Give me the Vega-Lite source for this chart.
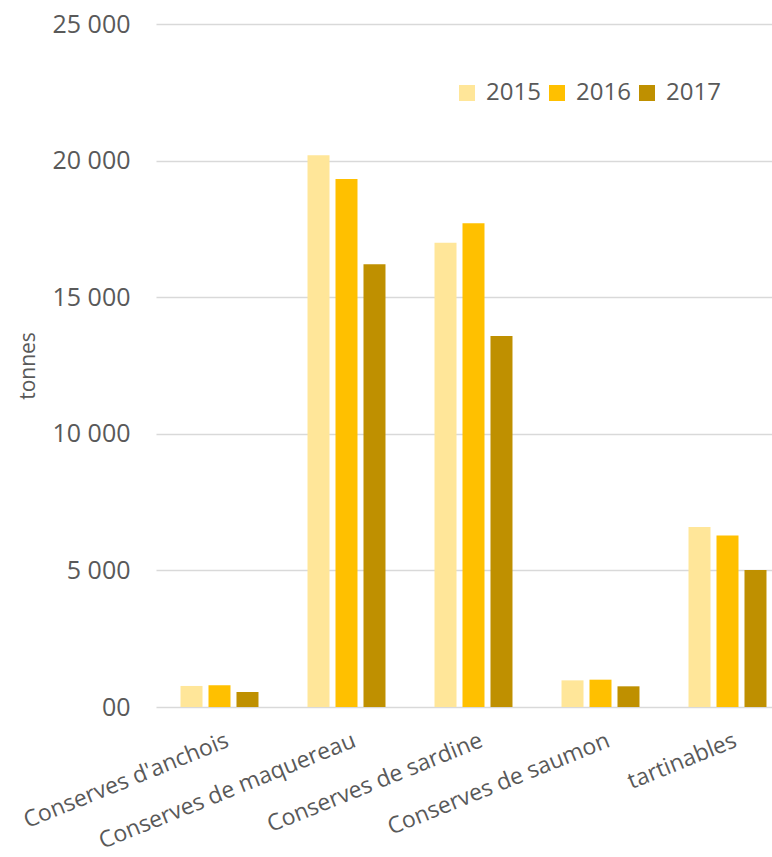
{
  "$schema": "https://vega.github.io/schema/vega-lite/v6.json",
  "autosize": {"type": "none"},
  "padding": {"left": 156, "top": 24, "right": 0, "bottom": 150},
  "width": 616,
  "height": 683,
  "background": "white",
  "config": {
    "view": {"stroke": null},
    "font": "Open Sans",
    "axis": {"labelColor": "#595959", "titleColor": "#595959", "labelFont": "Open Sans", "titleFont": "Open Sans"},
    "legend": {"labelColor": "#595959", "labelFont": "Open Sans"}
  },
  "data": {
    "values": [
      {"categorie": "Conserves d'anchois", "annee": "2015", "tonnes": 770},
      {"categorie": "Conserves d'anchois", "annee": "2016", "tonnes": 795},
      {"categorie": "Conserves d'anchois", "annee": "2017", "tonnes": 550},
      {"categorie": "Conserves de maquereau", "annee": "2015", "tonnes": 20200},
      {"categorie": "Conserves de maquereau", "annee": "2016", "tonnes": 19330},
      {"categorie": "Conserves de maquereau", "annee": "2017", "tonnes": 16210},
      {"categorie": "Conserves de sardine", "annee": "2015", "tonnes": 16990},
      {"categorie": "Conserves de sardine", "annee": "2016", "tonnes": 17710},
      {"categorie": "Conserves de sardine", "annee": "2017", "tonnes": 13580},
      {"categorie": "Conserves de saumon", "annee": "2015", "tonnes": 975},
      {"categorie": "Conserves de saumon", "annee": "2016", "tonnes": 1000},
      {"categorie": "Conserves de saumon", "annee": "2017", "tonnes": 757},
      {"categorie": "tartinables", "annee": "2015", "tonnes": 6590},
      {"categorie": "tartinables", "annee": "2016", "tonnes": 6280},
      {"categorie": "tartinables", "annee": "2017", "tonnes": 5015}
    ]
  },
  "mark": {"type": "bar"},
  "encoding": {
    "x": {
      "field": "categorie",
      "type": "nominal",
      "sort": null,
      "scale": {"range": [0, 635], "paddingInner": 0.386, "paddingOuter": 0.193},
      "axis": {
        "title": null,
        "domain": false,
        "ticks": false,
        "labelAngle": -22,
        "labelAlign": "right",
        "labelBaseline": "top",
        "labelFontSize": 23,
        "labelPadding": 22,
        "labelOffset": 4,
        "labelOverlap": false,
        "labelLimit": 400
      }
    },
    "xOffset": {
      "field": "annee",
      "type": "nominal",
      "scale": {"paddingInner": 0.214, "paddingOuter": 0}
    },
    "y": {
      "field": "tonnes",
      "type": "quantitative",
      "scale": {"domain": [0, 25000]},
      "axis": {
        "title": "tonnes",
        "titleFontSize": 21,
        "titleFontWeight": "normal",
        "titlePadding": 14,
        "domain": false,
        "ticks": false,
        "values": [0, 5000, 10000, 15000, 20000, 25000],
        "labelExpr": "datum.value === 0 ? '00' : replace(format(datum.value, ','), ',', ' ')",
        "labelFontSize": 25,
        "labelPadding": 26,
        "gridColor": "#d9d9d9",
        "gridWidth": 1.5
      }
    },
    "color": {
      "field": "annee",
      "type": "nominal",
      "scale": {"domain": ["2015", "2016", "2017"], "range": ["#FFE699", "#FFC000", "#BF9000"]},
      "legend": {
        "title": null,
        "orient": "none",
        "direction": "horizontal",
        "legendX": 299,
        "legendY": 57,
        "symbolType": "square",
        "symbolSize": 256,
        "symbolStrokeWidth": 0,
        "symbolOpacity": 1,
        "labelFontSize": 24,
        "labelOffset": 7,
        "columnPadding": 4
      }
    }
  }
}
